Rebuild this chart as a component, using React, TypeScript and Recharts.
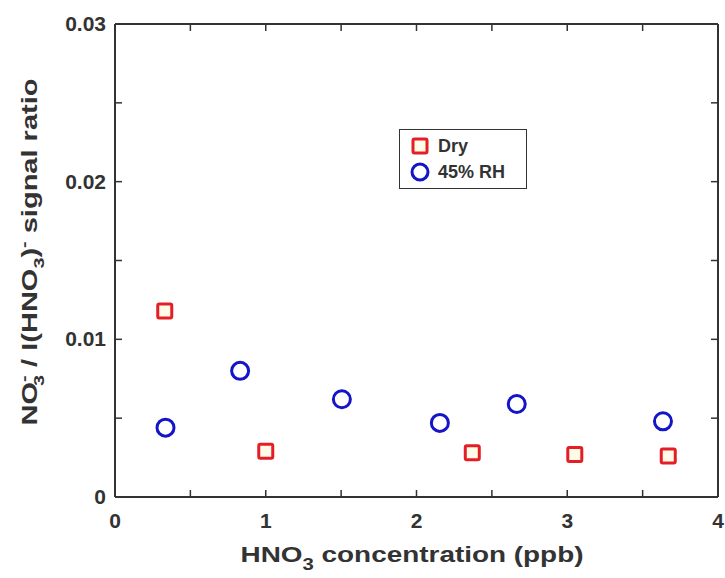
import React from 'react';
import { ScatterChart, Scatter, XAxis, YAxis, Label } from 'recharts';

// HNO3 concentration (ppb) vs NO3- / I(HNO3)- signal ratio
const seriesNames = ['Dry', '45% RH'];
const dryX = [0.33, 1.0, 2.37, 3.05, 3.67];
const dryY = [0.0118, 0.0029, 0.0028, 0.0027, 0.0026];
const rhX = [0.335, 0.83, 1.505, 2.155, 2.665, 3.635];
const rhY = [0.0044, 0.0080, 0.0062, 0.0047, 0.0059, 0.0048];

const xTicks = [0, 0.5, 1, 1.5, 2, 2.5, 3, 3.5, 4];
const xLabels = ['0', '1', '2', '3', '4'];
const yTicks = [0, 0.005, 0.01, 0.015, 0.02, 0.025, 0.03];
const yLabels = ['0', '0.01', '0.02', '0.03'];

const dryData = dryX.map((x, i) => ({ x, y: dryY[i] }));
const rhData = rhX.map((x, i) => ({ x, y: rhY[i] }));

const FONT = '"Liberation Sans", Arial, sans-serif';
const INK = '#333';
const RED = '#e41e26';
const BLUE = '#1414c8';
const TICK_LEN = 7;

const BottomTick = (p: any) => {
  const v = p.payload.value;
  const lbl = xLabels.find((s) => Number(s) === v);
  return (
    <g>
      {v > 0 && v < 4 && <line x1={p.x} x2={p.x} y1={p.y} y2={p.y - TICK_LEN} stroke={INK} strokeWidth={1.5} />}
      {lbl !== undefined && (
        <text x={p.x} y={p.y + 31} textAnchor="middle" fontFamily={FONT} fontWeight="bold" fontSize={21} fill={INK}>
          {lbl}
        </text>
      )}
    </g>
  );
};

const TopTick = (p: any) => {
  const v = p.payload.value;
  if (v <= 0 || v >= 4) return <g />;
  return <line x1={p.x} x2={p.x} y1={p.y} y2={p.y + TICK_LEN} stroke={INK} strokeWidth={1.5} />;
};

const LeftTick = (p: any) => {
  const v = p.payload.value;
  const lbl = yLabels.find((s) => Math.abs(Number(s) - v) < 1e-9);
  return (
    <g>
      {v > 0 && v < 0.03 && <line x1={p.x} x2={p.x + TICK_LEN} y1={p.y} y2={p.y} stroke={INK} strokeWidth={1.5} />}
      {lbl !== undefined && (
        <text x={p.x - 9} y={p.y + 7} textAnchor="end" fontFamily={FONT} fontWeight="bold" fontSize={21} fill={INK}>
          {lbl}
        </text>
      )}
    </g>
  );
};

const RightTick = (p: any) => {
  const v = p.payload.value;
  if (v <= 0 || v >= 0.03) return <g />;
  return <line x1={p.x} x2={p.x - TICK_LEN} y1={p.y} y2={p.y} stroke={INK} strokeWidth={1.5} />;
};

const XTitle = (p: any) => {
  const vb = p.viewBox;
  const cx = vb.x + vb.width / 2;
  return (
    <text
      x={cx - 176}
      y={vb.y + 65}
      textLength={343}
      lengthAdjust="spacingAndGlyphs"
      fontFamily={FONT}
      fontWeight="bold"
      fontSize={22}
      fill={INK}
    >
      HNO<tspan fontSize={16} dy={8}>3</tspan>
      <tspan dy={-8}> concentration (ppb)</tspan>
    </text>
  );
};

const YTitle = (p: any) => {
  const vb = p.viewBox;
  const cy = vb.y + vb.height / 2 - 8;
  const cx = 37;
  return (
    <text
      x={-173}
      y={0}
      transform={`translate(${cx} ${cy}) rotate(-90)`}
      fontFamily={FONT}
      fontWeight="bold"
      fontSize={22}
      fill={INK}
      textLength={347}
      lengthAdjust="spacingAndGlyphs"
    >
      NO<tspan fontSize={15} dy={-8}>-</tspan>
      <tspan fontSize={15} dx={-8} dy={15}>3</tspan>
      <tspan dy={-7}> / I(HNO</tspan>
      <tspan fontSize={15} dy={7}>3</tspan>
      <tspan dy={-7}>)</tspan>
      <tspan fontSize={15} dy={-8}>-</tspan>
      <tspan dy={8}> signal ratio</tspan>
    </text>
  );
};

const Square = (p: any) => (
  <rect x={p.cx - 7} y={p.cy - 7} width={14} height={14} rx={1.5} fill="#fffbe8" stroke={RED} strokeWidth={3} />
);

const Ring = (p: any) => <circle cx={p.cx} cy={p.cy} r={8.5} fill="#fff" stroke={BLUE} strokeWidth={3} />;

const LegendBox = () => (
  <div
    style={{
      position: 'absolute',
      left: 399,
      top: 129,
      border: `1.5px solid ${INK}`,
      background: '#fff',
      width: 128,
      height: 60,
      boxSizing: 'border-box',
      padding: '3px 0 0 10px',
      fontFamily: FONT,
      fontWeight: 'bold',
      fontSize: 18,
      color: INK,
    }}
  >
    {seriesNames.map((name, i) => (
      <div key={name} style={{ display: 'flex', alignItems: 'center', height: 26 }}>
        <svg width={20} height={20} style={{ marginRight: 8 }}>
          {i === 0 ? (
            <rect x={3} y={3} width={14} height={14} rx={1.5} fill="#fffbe8" stroke={RED} strokeWidth={3} />
          ) : (
            <circle cx={10} cy={10} r={8} fill="#fff" stroke={BLUE} strokeWidth={3} />
          )}
        </svg>
        <span>{name}</span>
      </div>
    ))}
  </div>
);

export default function App() {
  return (
    <div style={{ position: 'absolute', left: 0, top: 0, width: 725, height: 578, background: '#fff' }}>
      <ScatterChart width={725} height={578} margin={{ top: 23, right: 6, bottom: 0, left: 0 }}>
        <XAxis
          dataKey="x"
          type="number"
          domain={[0, 4]}
          ticks={xTicks}
          interval={0}
          height={81}
          tickSize={0}
          tickMargin={0}
          tickLine={false}
          axisLine={{ stroke: INK, strokeWidth: 2 }}
          tick={BottomTick}
        >
          <Label content={XTitle} />
        </XAxis>
        <XAxis
          xAxisId="top"
          orientation="top"
          dataKey="x"
          type="number"
          domain={[0, 4]}
          ticks={xTicks}
          interval={0}
          height={1}
          tickSize={0}
          tickMargin={0}
          tickLine={false}
          axisLine={{ stroke: INK, strokeWidth: 2 }}
          tick={TopTick}
        />
        <YAxis
          dataKey="y"
          type="number"
          domain={[0, 0.03]}
          ticks={yTicks}
          interval={0}
          width={115}
          tickSize={0}
          tickMargin={0}
          tickLine={false}
          axisLine={{ stroke: INK, strokeWidth: 2 }}
          tick={LeftTick}
        >
          <Label content={YTitle} />
        </YAxis>
        <YAxis
          yAxisId="right"
          orientation="right"
          dataKey="y"
          type="number"
          domain={[0, 0.03]}
          ticks={yTicks}
          interval={0}
          width={1}
          tickSize={0}
          tickMargin={0}
          tickLine={false}
          axisLine={{ stroke: INK, strokeWidth: 2 }}
          tick={RightTick}
        />
        <Scatter name={seriesNames[0]} data={dryData} shape={Square} isAnimationActive={false} />
        <Scatter
          name={seriesNames[1]}
          data={rhData}
          xAxisId="top"
          yAxisId="right"
          shape={Ring}
          isAnimationActive={false}
        />
      </ScatterChart>
      <LegendBox />
    </div>
  );
}
